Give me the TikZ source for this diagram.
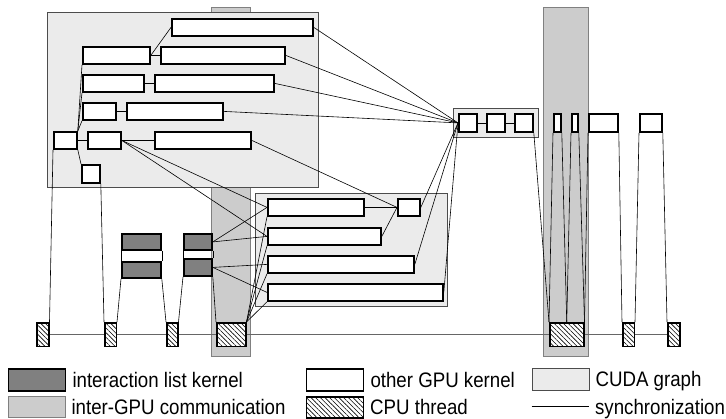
\documentclass[tikz,border=0pt]{standalone}
\usepackage{fontspec}
\setmainfont[FakeStretch=0.89]{Liberation Sans}
\usepackage{tikz}
\usetikzlibrary{positioning, patterns.meta}

\tikzset{
    kern/.style={draw, line width=1.8pt, fill=white, anchor=north west, inner sep=0pt, minimum height=17pt},
    ilk/.style={kern, fill=black!50, minimum height=16pt},
    cpu/.style={draw, line width=1.5pt, fill=white, anchor=north west, inner sep=0pt, minimum height=23.5pt,
        postaction={pattern={Lines[angle=-45, distance=3.3pt, line width=0.6pt]}}},
    cudagraph/.style={draw=black!70, line width=0.9pt, fill=black!8, anchor=north west, inner sep=0pt},
    comm/.style={draw=black!50, line width=0.9pt, fill=black!20, anchor=north west, inner sep=0pt},
    sync/.style={line width=0.6pt},
    thread/.style={line width=1pt, draw=black!60},
    legtext/.style={inner sep=0pt, text height=15pt, text depth=0pt, font=\fontsize{21}{24}\selectfont}
}

\begin{document}
\begin{tikzpicture}[x=1pt, y=-1pt]
    \useasboundingbox (0,0) rectangle (726,418);

    % Inter-GPU communication
    \node[comm, minimum width=39pt, minimum height=349pt] (comm1) at (211,7) {};
    \node[comm, minimum width=45pt, minimum height=349pt] (comm2) at (543,7) {};

    % CUDA graphs
    \node[cudagraph, minimum width=271pt, minimum height=175pt] (graph1) at (47,12) {};
    \node[cudagraph, minimum width=192pt, minimum height=113pt] (graph2) at (255,193) {};
    \node[cudagraph, minimum width=85pt, minimum height=29pt] (graph3) at (453,108) {};

    % Kernels of the first graph
    \node[kern, minimum width=141pt] (a1) at (171,18) {};
    \node[kern, minimum width=67pt] (b1) at (82,46) {};
    \node[kern, minimum width=124pt] (b2) at (160,46) {};
    \node[kern, minimum width=61pt] (c1) at (82,74) {};
    \node[kern, minimum width=119pt] (c2) at (154,74) {};
    \node[kern, minimum width=33pt] (d1) at (82,102) {};
    \node[kern, minimum width=96pt] (d2) at (126,102) {};
    \node[kern, minimum width=23pt] (e0) at (53,131) {};
    \node[kern, minimum width=33pt] (e1) at (87,131) {};
    \node[kern, minimum width=96pt] (e2) at (154,131) {};
    \node[kern, minimum width=18pt, minimum height=18pt] (f1) at (81,164) {};

    % Kernels of the second graph
    \node[kern, minimum width=96pt] (i1) at (267,198) {};
    \node[kern, minimum width=113pt] (i2) at (267,227) {};
    \node[kern, minimum width=146pt] (i3) at (267,255) {};
    \node[kern, minimum width=175pt] (i4) at (267,283) {};
    \node[kern, minimum width=22pt] (h1) at (397,198) {};

    % Kernels of the third graph
    \node[kern, minimum width=18pt, minimum height=18pt] (r1) at (458,113) {};
    \node[kern, minimum width=18pt, minimum height=18pt] (r2) at (486,113) {};
    \node[kern, minimum width=18pt, minimum height=18pt] (r3) at (514,113) {};

    % Kernels outside of graphs
    \node[kern, minimum width=7pt, minimum height=18pt] (l1) at (553,113) {};
    \node[kern, minimum width=6pt, minimum height=18pt] (l2) at (571,113) {};
    \node[kern, minimum width=29pt, minimum height=18pt] (l3) at (588,113) {};
    \node[kern, minimum width=22pt, minimum height=18pt] (l4) at (639,113) {};

    % Interaction list kernels
    \node[ilk, minimum width=39pt] (j1) at (121,233) {};
    \node[ilk, minimum width=39pt] (j2) at (121,261) {};
    \node[ilk, minimum width=28pt] (k1) at (183,233) {};
    \node[ilk, minimum width=28pt, minimum height=17pt] (k2) at (183,258) {};

    % CPU threads
    \node[cpu, minimum width=12pt] (t1) at (36,322) {};
    \node[cpu, minimum width=11.5pt] (t2) at (104,322) {};
    \node[cpu, minimum width=11pt] (t3) at (166,322) {};
    \node[cpu, minimum width=29pt] (t4) at (216,322) {};
    \node[cpu, minimum width=34pt] (t5) at (549,322) {};
    \node[cpu, minimum width=11.5pt] (t6) at (622,322) {};
    \node[cpu, minimum width=12pt] (t7) at (667,322) {};

    % Thread timeline
    \draw[thread] (t1.east) -- (t2.west) (t2.east) -- (t3.west) (t3.east) -- (t4.west)
        (t4.east) -- (t5.west) (t5.east) -- (t6.west) (t6.east) -- (t7.west);

    % Dependencies in the first graph
    \draw[sync] (b1.east) -- (a1.west);
    \draw[sync] (b1) -- (b2);
    \draw[sync] (c1) -- (c2);
    \draw[sync] (d1) -- (d2);
    \draw[sync] (e0) -- (e1);
    \draw[sync] (e1) -- (e2);
    \draw[sync] (e0.north east) -- (b1.south west);
    \draw[sync] (e0.north east) -- (c1.south west);
    \draw[sync] (e0.north east) -- (d1.south west);
    \draw[sync] (e0.south east) -- (f1.north west);

    % Dependencies towards the later graphs
    \draw[sync] (a1.east) -- (r1.west);
    \draw[sync] (b2.east) -- (r1.west);
    \draw[sync] (c2.east) -- (r1.west);
    \draw[sync] (d2.east) -- (r1.west);
    \draw[sync] (e2.east) -- (h1.west);
    \draw[sync] (e1.east) -- (i1.west);
    \draw[sync] (e1.east) -- (i2.west);
    \draw[sync] (i1.east) -- (h1.west);
    \draw[sync] (h1.west) -- (i2.east);
    \draw[sync] (h1.east) -- (r1.west);
    \draw[sync] (i3.east) -- (r1.west);
    \draw[sync] (i4.east) -- (r1.west);
    \draw[sync] (r1) -- (r2);
    \draw[sync] (r2) -- (r3);
    \draw[sync] (k1.east) -- (i1.west);
    \draw[sync] (k1.east) -- (i2.west);
    \draw[sync] (k2.east) -- (i3.west);
    \draw[sync] (k2.east) -- (i4.west);
    \draw[sync] (t4.north east) -- (i1.south west);
    \draw[sync] (t4.north east) -- (i2.south west);
    \draw[sync] (t4.north east) -- (i3.south west);
    \draw[sync] (t4.north east) -- (i4.south west);

    % Synchronization with the CPU threads
    \draw[sync] (t1.north east) -- (e0.south west);
    \draw[sync] (f1.south east) -- (t2.north west);
    \draw[sync] (t2.north east) -- (j2.south west);
    \draw[sync] (j2.north west) -- (j1.south west);
    \draw[sync] (j1.south east) -- (j2.north east);
    \draw[sync] (j2.south east) -- (t3.north west);
    \draw[sync] (t3.north east) -- (k2.south west);
    \draw[sync] (k2.north west) -- (k1.south west);
    \draw[sync] (k1.south east) -- (k2.north east);
    \draw[sync] (k2.south east) -- (t4.north west);
    \draw[sync] (r3.south east) -- (t5.north west);
    \draw[sync] (l1.south west) -- (t5.north west);
    \draw[sync] (l1.south east) -- (t5.north);
    \draw[sync] (l2.south west) -- (t5.north);
    \draw[sync] (l2.south east) -- (t5.north east);
    \draw[sync] (l3.south west) -- (t5.north east);
    \draw[sync] (l3.south east) -- (t6.north west);
    \draw[sync] (l4.south west) -- (t6.north east);
    \draw[sync] (l4.south east) -- (t7.north west);

    % Legend
    \node[ilk, minimum width=57pt, minimum height=22pt] (legIlk) at (7.5,368) {};
    \node[legtext, right=6pt of legIlk] (legIlkText) {interaction list kernel};
    \node[comm, minimum width=57pt, minimum height=21pt] (legComm) at (7.5,396) {};
    \node[legtext, right=6pt of legComm] (legCommText) {inter-GPU communication};
    \node[kern, minimum width=57pt, minimum height=22pt] (legKern) at (305.5,368) {};
    \node[legtext, right=6pt of legKern] (legKernText) {other GPU kernel};
    \node[cpu, minimum width=57pt, minimum height=21pt] (legCpu) at (305.5,396) {};
    \node[legtext, right=6pt of legCpu] (legCpuText) {CPU thread};
    \node[cudagraph, minimum width=57pt, minimum height=22pt] (legGraph) at (531.5,368) {};
    \node[legtext, right=6pt of legGraph] (legGraphText) {CUDA graph};
    \node[anchor=north west, inner sep=0pt, minimum width=57pt, minimum height=21pt] (legSync) at (531.5,396) {};
    \draw[sync] (legSync.west) -- (legSync.east);
    \node[legtext, right=6pt of legSync] (legSyncText) {synchronization};
\end{tikzpicture}
\end{document}
